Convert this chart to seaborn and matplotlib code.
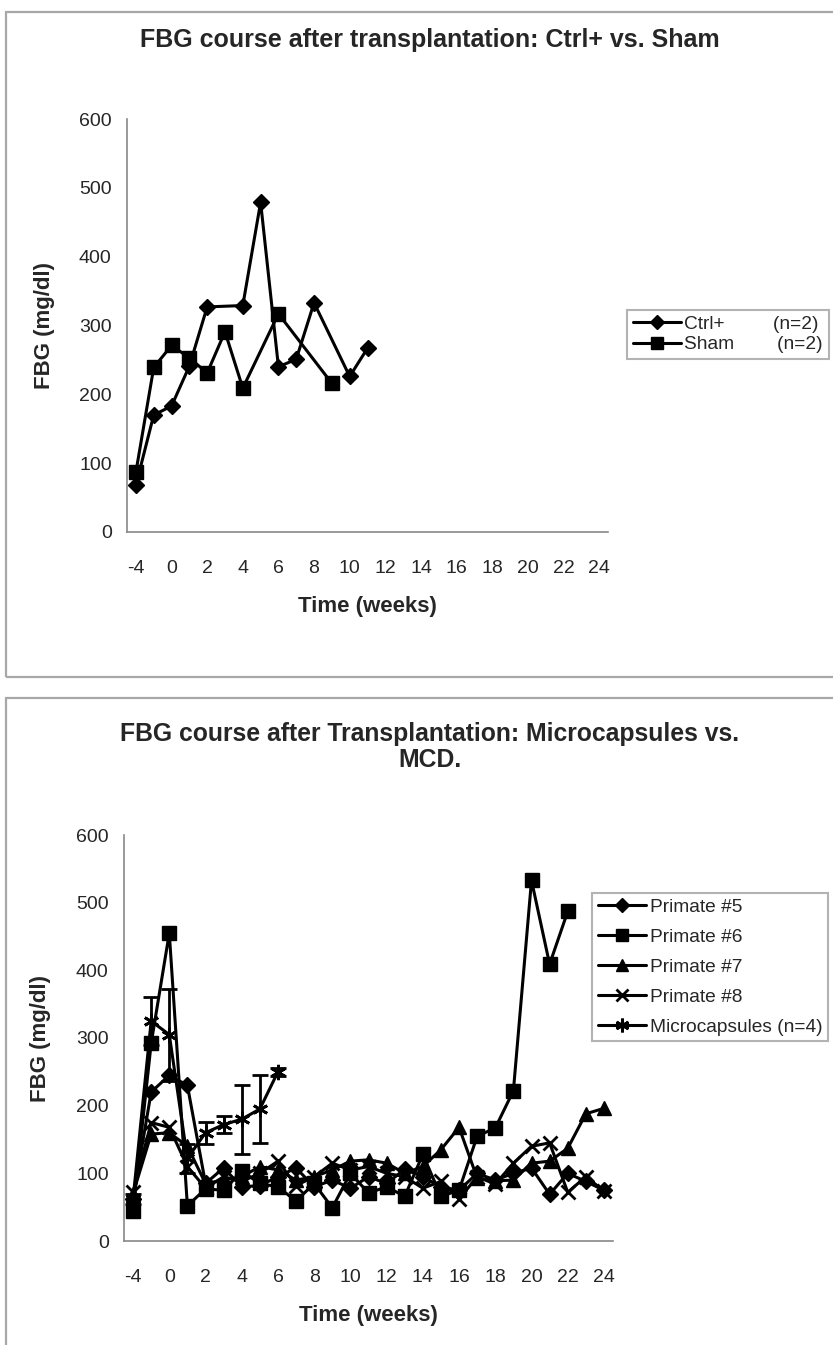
import matplotlib
matplotlib.use("Agg")
import pandas as pd
import seaborn as sns
import matplotlib.pyplot as plt
from matplotlib.lines import Line2D
from matplotlib.patches import Rectangle

# Excel category axis: weeks, one slot each, every other slot labelled
week_categories = [-4, -2, 0, 1, 2, 3, 4, 5, 6, 7, 8, 9, 10, 11, 12,
                   13, 14, 15, 16, 17, 18, 19, 20, 21, 22, 23, 24]
week_tick_labels = ["-4", "0", "2", "4", "6", "8", "10", "12", "14",
                    "16", "18", "20", "22", "24"]

# --- top chart: Ctrl+ vs Sham ---
ctrl_weeks = [-4, -2, 0, 1, 2, 4, 5, 6, 7, 8, 10, 11]
ctrl_fbg = [68, 170, 183, 241, 327, 329, 479, 240, 251, 333, 226, 267]
sham_weeks = [-4, -2, 0, 1, 2, 3, 4, 6, 9]
sham_fbg = [87, 239, 271, 253, 231, 291, 209, 317, 216]

# --- bottom chart: Microcapsules vs MCD ---
p5_weeks = week_categories
p5_fbg = [62, 220, 245, 230, 85, 108, 80, 82, 95, 108, 80, 90, 78, 95,
          85, 106, 95, 80, 75, 100, 90, 100, 108, 69, 100, 88, 75]
p6_weeks = week_categories[:25]
p6_fbg = [45, 292, 455, 52, 77, 75, 103, 85, 80, 59, 85, 49, 100, 71,
          80, 66, 128, 66, 75, 155, 167, 222, 533, 409, 487]
p7_weeks = week_categories
p7_fbg = [70, 158, 160, 140, 85, 90, 95, 110, 105, 90, 95, 105, 118, 120,
          115, 100, 110, 135, 168, 93, 89, 90, 115, 118, 137, 188, 196]
p8_weeks = week_categories
p8_fbg = [72, 175, 168, 110, 78, 95, 88, 100, 118, 82, 95, 115, 105, 110,
          100, 95, 78, 88, 62, 95, 84, 115, 140, 145, 72, 95, 74]
micro_weeks = [-4, -2, 0, 1, 2, 3, 4, 5, 6]
micro_fbg = [62, 325, 305, 122, 160, 172, 180, 195, 250]
micro_err = [8, 35, 68, 22, 16, 12, 51, 50, 6]


def to_frame(weeks, values, name):
    slots = [week_categories.index(w) for w in weeks]
    return pd.DataFrame({"slot": slots, "fbg": values, "series": name})


top_df = pd.concat([to_frame(ctrl_weeks, ctrl_fbg, "Ctrl+"),
                    to_frame(sham_weeks, sham_fbg, "Sham")])
bottom_df = pd.concat([to_frame(p5_weeks, p5_fbg, "Primate #5"),
                       to_frame(p6_weeks, p6_fbg, "Primate #6"),
                       to_frame(p7_weeks, p7_fbg, "Primate #7"),
                       to_frame(p8_weeks, p8_fbg, "Primate #8"),
                       to_frame(micro_weeks, micro_fbg, "Microcapsules (n=4)")])

top_markers = {"Ctrl+": "D", "Sham": "s"}
bottom_markers = {"Primate #5": "D", "Primate #6": "s", "Primate #7": "^",
                  "Primate #8": "x", "Microcapsules (n=4)": (6, 2, 0)}
marker_sizes = {"D": 8, "s": 10, "^": 10, "x": 10, (6, 2, 0): 11}

sns.set_style("white")
plt.rcParams["font.family"] = ["Liberation Sans", "DejaVu Sans"]

W, H = 833, 1345
fig = plt.figure(figsize=(W / 100, H / 100), dpi=100)

# chart-area frames like the Excel original
fig.patches.append(Rectangle((6 / W, 1 - 677 / H), 900 / W, (677 - 12) / H,
                             transform=fig.transFigure, fill=False,
                             edgecolor="#a8a8a8", linewidth=1.6))
fig.patches.append(Rectangle((6 / W, 1 - 1420 / H), 900 / W, (1420 - 698) / H,
                             transform=fig.transFigure, fill=False,
                             edgecolor="#a8a8a8", linewidth=1.6))

ax1 = fig.add_axes([127 / W, 1 - 532 / H, 481 / W, 413 / H])
ax2 = fig.add_axes([124 / W, 1 - 1241 / H, 489 / W, 406 / H])


def draw(ax, df, markers):
    for name, grp in df.groupby("series", sort=False):
        m = markers[name]
        sns.lineplot(data=grp, x="slot", y="fbg", ax=ax, color="black",
                     linewidth=2.2, marker=m, markersize=marker_sizes[m],
                     markeredgecolor="black", markeredgewidth=2.0 if m in ("x", (6, 2, 0)) else 1,
                     legend=False)


draw(ax1, top_df, top_markers)
draw(ax2, bottom_df, bottom_markers)
ax2.errorbar([week_categories.index(w) for w in micro_weeks], micro_fbg,
             yerr=micro_err, fmt="none", ecolor="black", elinewidth=2,
             capsize=6, capthick=2)

for ax in (ax1, ax2):
    ax.set_xlim(-0.5, len(week_categories) - 0.5)
    ax.set_ylim(0, 600)
    ax.set_yticks(range(0, 601, 100))
    ax.set_xticks([i - 0.5 for i in range(len(week_categories) + 1)])
    ax.set_xticklabels([])
    ax.set_xticks(range(0, len(week_categories), 2), minor=True)
    ax.set_xticklabels(week_tick_labels, minor=True)
    ax.tick_params(axis="x", which="major", direction="out", length=5,
                   color="#888888", width=1.2)
    ax.tick_params(axis="x", which="minor", length=0, labelsize=14, pad=20)
    ax.tick_params(axis="y", direction="out", length=5, color="#888888",
                   width=1.2, labelsize=14, pad=6)
    for s in ("top", "right"):
        ax.spines[s].set_visible(False)
    for s in ("left", "bottom"):
        ax.spines[s].set_color("#888888")
        ax.spines[s].set_linewidth(1.2)
    ax.set_xlabel("Time (weeks)", fontsize=16, fontweight="bold", labelpad=14)
    ax.set_ylabel("FBG (mg/dl)", fontsize=16, fontweight="bold")
    ax.yaxis.set_label_coords(-0.15, 0.5)

fig.text(430 / W, 1 - 40 / H, "FBG course after transplantation: Ctrl+ vs. Sham",
         ha="center", va="center", fontsize=18, fontweight="bold")
fig.text(430 / W, 1 - 747 / H,
         "FBG course after Transplantation: Microcapsules vs.\nMCD.",
         ha="center", va="center", fontsize=17.8, fontweight="bold",
         linespacing=1.15)


def handle(m):
    return Line2D([], [], color="black", linewidth=2.2, marker=m,
                  markersize=marker_sizes[m] * 0.9, markeredgecolor="black",
                  markeredgewidth=2.0 if m in ("x", (6, 2, 0)) else 1)


leg_style = dict(frameon=True, fancybox=False, edgecolor="#a0a0a0",
                 handlelength=2.5, handletextpad=0.2, borderpad=0.3,
                 borderaxespad=0, fontsize=13.8)
fig.legend([handle(top_markers[k]) for k in top_markers],
           ["Ctrl+         (n=2)", "Sham        (n=2)"],
           loc="upper left", bbox_to_anchor=(627 / W, 1 - 310 / H),
           labelspacing=0.15, **leg_style).get_frame().set_linewidth(1.5)
fig.legend([handle(bottom_markers[k]) for k in bottom_markers],
           list(bottom_markers),
           loc="upper left", bbox_to_anchor=(592 / W, 1 - 893 / H),
           labelspacing=0.65, **leg_style).get_frame().set_linewidth(1.5)

fig.savefig("out.png", dpi=100)
